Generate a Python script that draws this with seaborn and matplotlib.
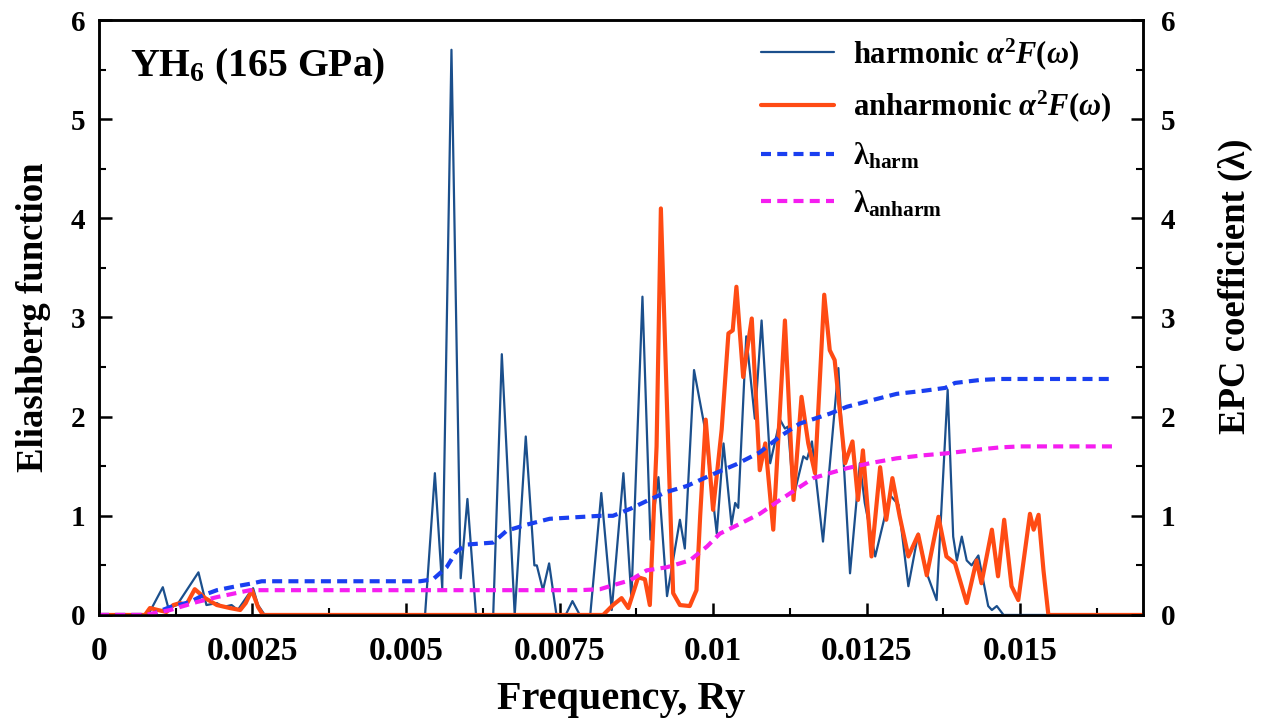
import numpy as np
import pandas as pd
import matplotlib
matplotlib.use("Agg")
import matplotlib.pyplot as plt
import seaborn as sns
from matplotlib.ticker import MultipleLocator, FixedLocator, FixedFormatter

# ---------------- data ----------------
harm_freq = [0.0, 0.00080, 0.00104, 0.00113, 0.00127, 0.00162, 0.00175, 0.00192, 0.00202,
             0.00216, 0.00226, 0.00246, 0.00251, 0.00259, 0.00270,
             0.00531, 0.00547, 0.00559, 0.00574, 0.00589, 0.00600, 0.00614,
             0.00642, 0.00656, 0.00677, 0.00695, 0.00709, 0.00713, 0.00723, 0.00733, 0.00745,
             0.00760, 0.00771, 0.00783,
             0.00800, 0.00818, 0.00835, 0.00854, 0.00867, 0.00885, 0.00898, 0.00911, 0.00925,
             0.00946, 0.00954, 0.00969, 0.00987, 0.01006, 0.01017, 0.01030, 0.01036, 0.01041,
             0.01054, 0.01068, 0.01079, 0.01093, 0.01109, 0.01117, 0.01122, 0.01131, 0.01147,
             0.01153, 0.01161, 0.01179, 0.01204, 0.01223, 0.01239, 0.01247, 0.01264, 0.01288,
             0.01302, 0.01318, 0.01334, 0.01348, 0.01364, 0.01382, 0.01391, 0.01397, 0.01405,
             0.01413, 0.01421, 0.01432, 0.01448, 0.01454, 0.01462, 0.01473, 0.0170]
harm_val = [0.0, 0.0, 0.28, 0.07, 0.10, 0.43, 0.10, 0.12, 0.08,
            0.10, 0.05, 0.23, 0.27, 0.10, 0.0,
            0.0, 1.43, 0.27, 5.70, 0.37, 1.17, 0.0,
            0.0, 2.63, 0.0, 1.80, 0.50, 0.50, 0.25, 0.52, 0.0,
            0.0, 0.14, 0.0,
            0.0, 1.23, 0.05, 1.43, 0.17, 3.21, 0.76, 1.39, 0.19,
            0.96, 0.67, 2.47, 1.87, 0.82, 1.73, 0.91, 1.13, 1.08,
            2.81, 1.98, 2.97, 1.53, 1.97, 1.88, 1.90, 1.19, 1.60,
            1.57, 1.75, 0.74, 2.49, 0.42, 1.53, 1.13, 0.59, 1.21,
            1.11, 0.29, 0.82, 0.42, 0.15, 2.27, 0.79, 0.55, 0.79,
            0.55, 0.50, 0.60, 0.09, 0.05, 0.09, 0.0, 0.0]

anharm_freq = [0.0, 0.00075, 0.00083, 0.00096, 0.00110, 0.00121, 0.00132, 0.00142, 0.00156,
               0.00173, 0.00192, 0.00213, 0.00230, 0.00239, 0.00249, 0.00259, 0.00267,
               0.00821, 0.00837, 0.00851, 0.00862, 0.00878, 0.00889, 0.00897, 0.00908, 0.00915,
               0.00927, 0.00935, 0.00946, 0.00962, 0.00973, 0.00979, 0.00988, 0.01000, 0.01014,
               0.01025, 0.01032, 0.01038, 0.01049, 0.01063, 0.01076, 0.01085, 0.01098, 0.01117,
               0.01131, 0.01144, 0.01155, 0.01166, 0.01181, 0.01190, 0.01198, 0.01215, 0.01227,
               0.01236, 0.01244, 0.01258, 0.01272, 0.01282, 0.01292, 0.01304, 0.01318, 0.01334,
               0.01348, 0.01367, 0.01380, 0.01394, 0.01413, 0.01429, 0.01437, 0.01454, 0.01464,
               0.01474, 0.01486, 0.01497, 0.01516, 0.01522, 0.01530, 0.01538, 0.01546, 0.0170]
anharm_val = [0.0, 0.0, 0.07, 0.05, 0.03, 0.10, 0.12, 0.10, 0.26,
              0.17, 0.10, 0.07, 0.05, 0.12, 0.25, 0.08, 0.0,
              0.0, 0.10, 0.17, 0.07, 0.38, 0.36, 0.10, 1.70, 4.10,
              1.70, 0.22, 0.10, 0.09, 0.25, 1.00, 1.97, 1.06, 1.87,
              2.84, 2.87, 3.31, 2.40, 2.99, 1.46, 1.73, 0.86, 2.97,
              1.16, 2.20, 1.73, 1.43, 3.23, 2.67, 2.57, 1.53, 1.75,
              1.16, 1.66, 0.59, 1.49, 0.96, 1.38, 0.99, 0.59, 0.81,
              0.40, 0.99, 0.59, 0.52, 0.12, 0.55, 0.32, 0.86, 0.39,
              0.96, 0.29, 0.15, 1.02, 0.86, 1.01, 0.45, 0.0, 0.0]

lam_harm_freq = [0.0, 0.00083, 0.00116, 0.00148, 0.00170, 0.00192, 0.00224, 0.00251, 0.00265,
                 0.00523, 0.00544, 0.00566, 0.00582, 0.00599, 0.00642, 0.00664, 0.00696,
                 0.00734, 0.00816, 0.00837, 0.00865, 0.00892, 0.00924, 0.00957, 0.01000,
                 0.01038, 0.01076, 0.01109, 0.01141, 0.01190, 0.01218, 0.01255, 0.01299,
                 0.01342, 0.01378, 0.01394, 0.01435, 0.01467, 0.01654]
lam_harm_val = [0.0, 0.0, 0.08, 0.13, 0.20, 0.25, 0.29, 0.32, 0.34,
                0.34, 0.36, 0.48, 0.64, 0.71, 0.73, 0.85, 0.91,
                0.97, 1.00, 1.00, 1.07, 1.15, 1.24, 1.30, 1.42,
                1.52, 1.64, 1.80, 1.93, 2.03, 2.10, 2.16, 2.23,
                2.26, 2.29, 2.34, 2.37, 2.38, 2.38]

lam_anharm_freq = [0.0, 0.00075, 0.00116, 0.00159, 0.00192, 0.00246, 0.00265,
                   0.00783, 0.00816, 0.00837, 0.00865, 0.00892, 0.00924, 0.00962, 0.00990,
                   0.01011, 0.01044, 0.01076, 0.01109, 0.01136, 0.01163, 0.01190, 0.01218,
                   0.01255, 0.01299, 0.01342, 0.01380, 0.01435, 0.01467, 0.01500, 0.01651]
lam_anharm_val = [0.0, 0.0, 0.05, 0.13, 0.18, 0.25, 0.25,
                  0.25, 0.26, 0.30, 0.35, 0.45, 0.48, 0.55, 0.69,
                  0.82, 0.92, 1.02, 1.16, 1.27, 1.38, 1.43, 1.48,
                  1.53, 1.58, 1.61, 1.63, 1.67, 1.69, 1.70, 1.70]

x_ticks = [0, 0.0025, 0.005, 0.0075, 0.01, 0.0125, 0.015]
x_tick_labels = ["0", "0.0025", "0.005", "0.0075", "0.01", "0.0125", "0.015"]
y_ticks = [0, 1, 2, 3, 4, 5, 6]
series_labels = ["harmonic $\\alpha^2F(\\omega)$", "anharmonic $\\alpha^2F(\\omega)$",
                 "λ$_{\\mathrm{harm}}$", "λ$_{\\mathrm{anharm}}$"]

# ---------------- style ----------------
sns.set_theme(style="ticks")
plt.rcParams['font.family'] = ['Liberation Serif', 'DejaVu Serif']
plt.rcParams['font.weight'] = 'bold'
plt.rcParams['axes.labelweight'] = 'bold'
plt.rcParams['text.color'] = 'black'
plt.rcParams['axes.labelcolor'] = 'black'
plt.rcParams['xtick.color'] = 'black'
plt.rcParams['ytick.color'] = 'black'
plt.rcParams['mathtext.fontset'] = 'custom'
plt.rcParams['mathtext.rm'] = 'Liberation Serif:bold'
plt.rcParams['mathtext.it'] = 'Liberation Serif:italic:bold'
plt.rcParams['mathtext.bf'] = 'Liberation Serif:bold'

c_harm = "#1b4f8c"
c_anharm = "#ff4b14"
c_lharm = "#1a3ff0"
c_lanharm = "#f51ef0"

fig = plt.figure(figsize=(12.67, 7.18), dpi=100)
ax = fig.add_axes([0.0781, 0.1435, 0.824, 0.8286])
ax2 = ax.twinx()

sns.lineplot(x=harm_freq, y=harm_val, ax=ax, color=c_harm, linewidth=1.6,
             estimator=None, sort=False, zorder=3)
sns.lineplot(x=anharm_freq, y=anharm_val, ax=ax, color=c_anharm, linewidth=3.0,
             estimator=None, sort=False, zorder=4)
sns.lineplot(x=lam_harm_freq, y=lam_harm_val, ax=ax2, color=c_lharm, linewidth=3.0,
             estimator=None, sort=False)
sns.lineplot(x=lam_anharm_freq, y=lam_anharm_val, ax=ax2, color=c_lanharm, linewidth=3.0,
             estimator=None, sort=False)

l_harm, l_anharm = ax.lines[0], ax.lines[1]
l_lh, l_la = ax2.lines[0], ax2.lines[1]
for ln in (l_lh, l_la):
    ln.set_linestyle((0, (2.4, 1.5)))

for a in (ax, ax2):
    a.set_xlim(0, 0.017)
    a.set_ylim(0, 6)
    for s in a.spines.values():
        s.set_linewidth(1.8)
        s.set_color("black")

ax.xaxis.set_major_locator(FixedLocator(x_ticks))
ax.xaxis.set_major_formatter(FixedFormatter(x_tick_labels))
ax.xaxis.set_minor_locator(MultipleLocator(0.00125))
ax.yaxis.set_major_locator(FixedLocator(y_ticks))
ax.yaxis.set_minor_locator(MultipleLocator(0.5))
ax2.yaxis.set_major_locator(FixedLocator(y_ticks))
ax2.yaxis.set_minor_locator(MultipleLocator(0.5))

ax.tick_params(axis='both', which='major', direction='in', length=9, width=1.8,
               top=False, right=False, colors='black')
ax.tick_params(axis='both', which='minor', direction='in', length=5, width=1.5,
               top=False, right=False, colors='black')
ax.tick_params(axis='x', which='major', pad=15, labelsize=24)
ax.tick_params(axis='y', which='major', pad=10, labelsize=21)
ax2.tick_params(axis='y', which='major', direction='in', length=9, width=1.8,
                labelsize=21, pad=13, colors='black')
ax2.tick_params(axis='y', which='minor', direction='in', length=5, width=1.5, colors='black')
for lab in ax.get_xticklabels() + ax.get_yticklabels() + ax2.get_yticklabels():
    lab.set_fontweight('bold')

ax.set_xlabel("Frequency, Ry", fontsize=29, fontweight='bold', labelpad=10)
ax.set_ylabel("Eliashberg function", fontsize=26.5, fontweight='bold', labelpad=14)
ax2.set_ylabel("EPC coefficient (λ)", fontsize=26.5, fontweight='bold')
ax2.yaxis.set_label_coords(1.072, 0.553)

ax.text(0.030, 0.905, "YH$_{\\mathrm{6}}$ (165 GPa)", transform=ax.transAxes,
        fontsize=28.5, fontweight='bold', va='baseline', ha='left')

ax2.legend([l_harm, l_anharm, l_lh, l_la], series_labels, loc='upper left',
           bbox_to_anchor=(0.634, 0.973), frameon=False, fontsize=22,
           handlelength=2.4, handletextpad=0.6, labelspacing=0.55,
           borderaxespad=0, borderpad=0)

fig.savefig("out.png", dpi=100, facecolor="white")
